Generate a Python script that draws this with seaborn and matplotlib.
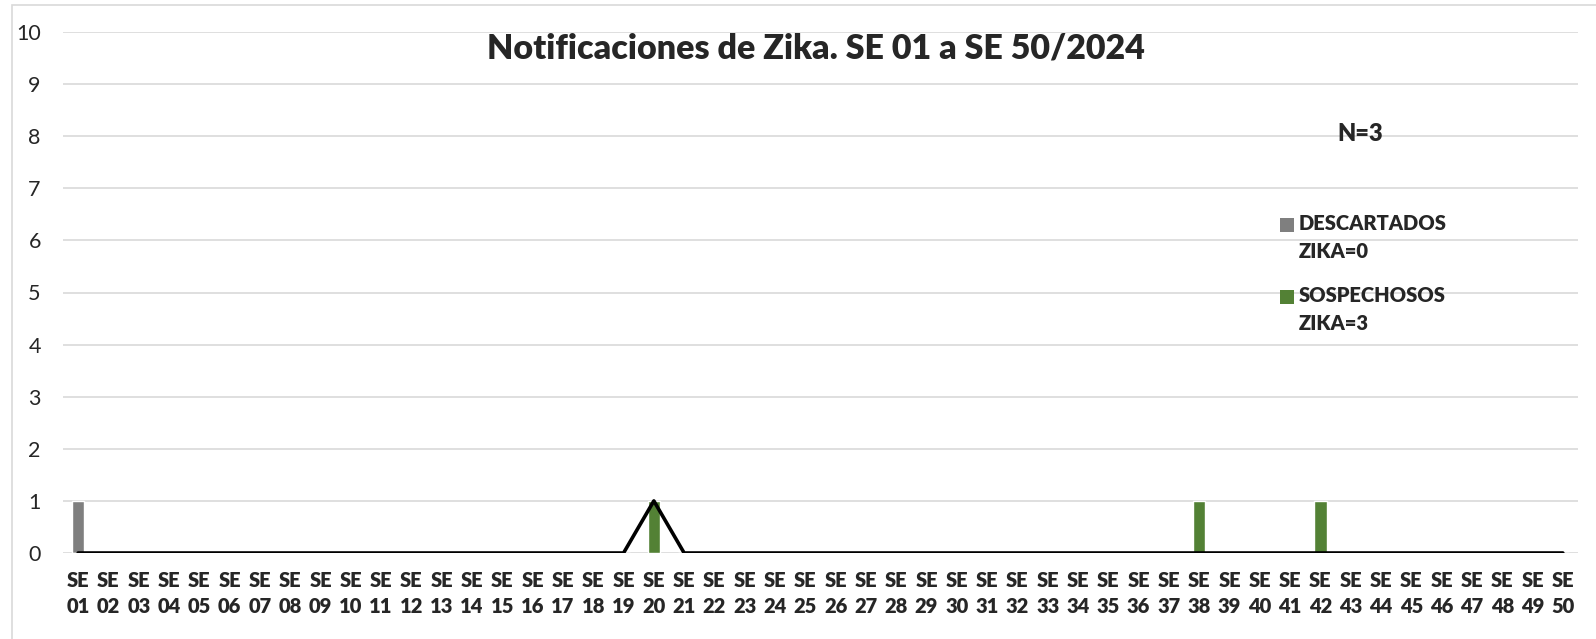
import pandas as pd
import seaborn as sns
import matplotlib.pyplot as plt
from matplotlib.patches import Rectangle

# semanas epidemiologicas
semanas = ["SE\n%02d" % i for i in range(1, 51)]

descartados = [0] * 50
descartados[0] = 1

sospechosos = [0] * 50
sospechosos[19] = 1
sospechosos[37] = 1
sospechosos[41] = 1

linea = [0] * 50
linea[19] = 1

leyenda = ["DESCARTADOS\nZIKA=0", "SOSPECHOSOS\nZIKA=3"]

df = pd.DataFrame({"semana": semanas, "descartados": descartados,
                   "sospechosos": sospechosos, "linea": linea})

sns.set_style("white")
plt.rcParams['font.family'] = ['Lato', 'DejaVu Sans']

fig = plt.figure(figsize=(15.96, 6.39), dpi=100)
ax = fig.add_axes([63 / 1596, 1 - 553 / 639, (1578 - 63) / 1596, (553 - 32) / 639])

gris = "#7f7f7f"
verde = "#538135"

sns.barplot(data=df, x="semana", y="descartados", color=gris, width=0.4,
            saturation=1, ax=ax)
sns.barplot(data=df, x="semana", y="sospechosos", color=verde, width=0.4,
            saturation=1, ax=ax)
sns.lineplot(data=df, x="semana", y="linea", color="black", linewidth=2.6,
             ax=ax, legend=False)

ax.set_xlim(-0.5, 49.5)
ax.set_ylim(0, 10)
ax.set_yticks(range(0, 11))
ax.yaxis.grid(True, color="#d9d9d9", linewidth=1.2)
ax.set_axisbelow(True)
for s in ax.spines.values():
    s.set_visible(False)
ax.set_xlabel("")
ax.set_ylabel("")
ax.tick_params(axis="both", length=0)
ax.tick_params(axis="y", labelsize=15.5, pad=16)
ax.tick_params(axis="x", pad=13)
for lbl in ax.get_xticklabels():
    lbl.set_fontsize(14.5)
    lbl.set_fontweight("heavy")
    lbl.set_linespacing(1.45)

fig.text(816 / 1596, 1 - 48 / 639, "Notificaciones de Zika. SE 01 a SE 50/2024",
         ha="center", va="center", fontsize=24.5, fontweight="heavy")
fig.text(1360 / 1596, 1 - 134 / 639, "N=3", ha="center", va="center",
         fontsize=17, fontweight="heavy")

# leyenda al estilo excel (cuadro alineado con la primera linea)
for texto, color, y in zip(leyenda, [gris, verde], [225, 297]):
    fig.patches.append(Rectangle((1280 / 1596, 1 - (y + 7) / 639), 14 / 1596, 14 / 639,
                                 transform=fig.transFigure, facecolor=color,
                                 edgecolor="none"))
    fig.text(1299 / 1596, 1 - (y - 11) / 639, texto, ha="left", va="top",
             fontsize=14.5, fontweight="heavy", linespacing=1.55)

# borde exterior
fig.patches.append(Rectangle((12 / 1596, -0.1), 1.2, 1 - 5 / 639 + 0.1,
                             transform=fig.transFigure, fill=False,
                             edgecolor="#d9d9d9", linewidth=1.2))

plt.savefig("out.png", dpi=100)
